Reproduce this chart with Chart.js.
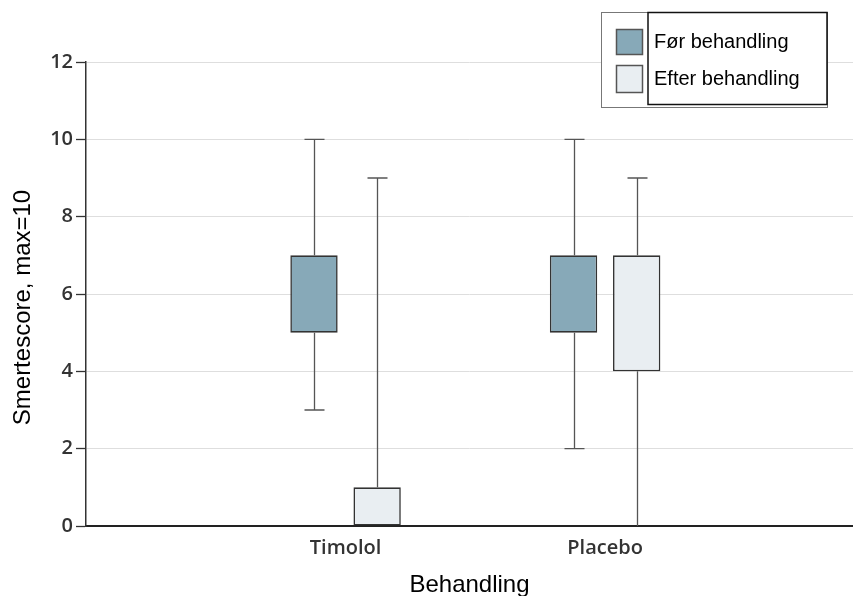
<!DOCTYPE html>
<html>
<head>
<meta charset="utf-8">
<script src="https://cdn.jsdelivr.net/npm/chart.js@4/dist/chart.umd.min.js"></script>
<style>
  html, body { margin: 0; padding: 0; overflow: hidden; background: #fff; }
  #mycanvas { display: block; }
</style>
</head>
<body>
<canvas id="mycanvas" width="853" height="596"></canvas>
<script>
var groups = ["Timolol", "Placebo"];
var groupPos = [1, 2];
var seriesNames = ["Før behandling", "Efter behandling"];

var beforeMin = [3, 2];
var beforeQ1  = [5, 5];
var beforeQ3  = [7, 7];
var beforeMax = [10, 10];

var afterMin = [0, 0];
var afterQ1  = [0, 4];
var afterQ3  = [1, 7];
var afterMax = [9, 9];

var yTicks = [0, 2, 4, 6, 8, 10, 12];
var xRange = [0, 2.955]; // the original axis runs a little past the right edge
var yTitle = "Smertescore, max=10";
var xTitle = "Behandling";

var tickFont = { family: "'Open Sans', sans-serif", size: 20, weight: "600" };
var textFont = "'Liberation Sans', Arial, sans-serif";

function boxes(q1, q3) {
  return groups.map(function (g, i) {
    return { x: groupPos[i], y: [q1[i], q3[i]] };
  });
}

// whiskers and caps, drawn under the boxes
var whiskers = {
  id: "whiskers",
  beforeDatasetsDraw: function (chart) {
    var ctx = chart.ctx;
    var y = chart.scales.y;
    ctx.save();
    ctx.strokeStyle = "#555";
    ctx.lineWidth = 1.3;
    chart.data.datasets.forEach(function (ds, d) {
      var meta = chart.getDatasetMeta(d);
      meta.data.forEach(function (bar, i) {
        var x = Math.round(bar.x) + 0.5;
        var lo = y.getPixelForValue(ds.whiskerMin[i]);
        var hi = y.getPixelForValue(ds.whiskerMax[i]);
        var q1 = y.getPixelForValue(ds.data[i].y[0]);
        var q3 = y.getPixelForValue(ds.data[i].y[1]);
        ctx.beginPath();
        ctx.moveTo(x, hi); ctx.lineTo(x, q3);
        ctx.moveTo(x, q1); ctx.lineTo(x, lo);
        ctx.moveTo(x - 10, hi); ctx.lineTo(x + 10, hi);
        if (ds.whiskerMin[i] > y.min) {
          ctx.moveTo(x - 10, lo); ctx.lineTo(x + 10, lo);
        }
        ctx.stroke();
      });
    });
    ctx.restore();
  }
};

// y title sits a bit below the middle of the axis in the original
var sideTitle = {
  id: "sideTitle",
  afterDraw: function (chart) {
    var ctx = chart.ctx;
    ctx.save();
    ctx.translate(23.5, 307.5);
    ctx.rotate(-Math.PI / 2);
    ctx.font = "24px " + textFont;
    ctx.fillStyle = "#000";
    ctx.textAlign = "center";
    ctx.textBaseline = "middle";
    ctx.fillText(yTitle, 0, 0);
    ctx.restore();
  }
};

// the boxed legend in the top right corner
var boxLegend = {
  id: "boxLegend",
  afterDraw: function (chart) {
    var ctx = chart.ctx;
    var ds = chart.data.datasets;
    ctx.save();
    ctx.fillStyle = "#fff";
    ctx.fillRect(601, 12, 227, 96);
    ctx.strokeStyle = "#777";
    ctx.lineWidth = 1;
    ctx.strokeRect(601.5, 12.5, 226, 95);
    ctx.strokeStyle = "#111";
    ctx.lineWidth = 1.5;
    ctx.strokeRect(648, 12.5, 179, 92);

    var rows = [[29.5, 25], [65.5, 27]];
    ctx.font = "20px " + textFont;
    ctx.textBaseline = "middle";
    ds.forEach(function (set, k) {
      ctx.fillStyle = set.backgroundColor;
      ctx.fillRect(616.5, rows[k][0], 26, rows[k][1]);
      ctx.strokeStyle = "#555";
      ctx.lineWidth = 1.5;
      ctx.strokeRect(616.5, rows[k][0], 26, rows[k][1]);
      ctx.fillStyle = "#000";
      ctx.fillText(set.label, 654, rows[k][0] + rows[k][1] / 2 + 0.5);
    });
    ctx.restore();
  }
};

var chartdata = {
  datasets: [
    {
      label: seriesNames[0],
      data: boxes(beforeQ1, beforeQ3),
      whiskerMin: beforeMin,
      whiskerMax: beforeMax,
      backgroundColor: "#87a9b8",
      borderColor: "#333",
      borderWidth: 1.6,
      borderSkipped: false,
      categoryPercentage: 0.4865,
      barPercentage: 0.75
    },
    {
      label: seriesNames[1],
      data: boxes(afterQ1, afterQ3),
      whiskerMin: afterMin,
      whiskerMax: afterMax,
      backgroundColor: "#e9eef2",
      borderColor: "#333",
      borderWidth: 1.6,
      borderSkipped: false,
      categoryPercentage: 0.4865,
      barPercentage: 0.75
    }
  ]
};

var ctx = document.getElementById("mycanvas");

var BoxGraph = new Chart(ctx, {
  type: "bar",
  data: chartdata,
  plugins: [whiskers, sideTitle, boxLegend],
  options: {
    responsive: false,
    animation: false,
    layout: { padding: { left: 5, top: 62, right: 0, bottom: -8 } },
    plugins: {
      legend: { display: false },
      tooltip: { enabled: false }
    },
    scales: {
      x: {
        type: "linear",
        offset: false,
        min: xRange[0],
        max: xRange[1],
        afterBuildTicks: function (scale) {
          scale.ticks = groupPos.map(function (v) { return { value: v }; });
        },
        afterFit: function (scale) { scale.height = 78; },
        grid: { display: false, drawTicks: false, tickLength: 0 },
        border: { display: true, color: "#222", width: 2 },
        ticks: {
          padding: 10,
          color: "#333",
          font: tickFont,
          autoSkip: false,
          maxRotation: 0,
          callback: function (value) {
            var i = groupPos.indexOf(value);
            return i < 0 ? "" : groups[i];
          }
        },
        title: {
          display: true,
          text: xTitle,
          color: "#000",
          font: { family: textFont, size: 24 },
          padding: { top: 10, bottom: 4 }
        }
      },
      y: {
        min: 0,
        max: 12,
        afterBuildTicks: function (scale) {
          scale.ticks = yTicks.map(function (v) { return { value: v }; });
        },
        afterFit: function (scale) { scale.width = 81; },
        grid: { color: "#dedede", lineWidth: 1, tickLength: 10, tickColor: "#333", tickWidth: 1.3 },
        border: { color: "#333", width: 1.5 },
        ticks: { padding: 3, color: "#333", font: tickFont },
        title: { display: false }
      }
    }
  }
});
</script>
</body>
</html>
